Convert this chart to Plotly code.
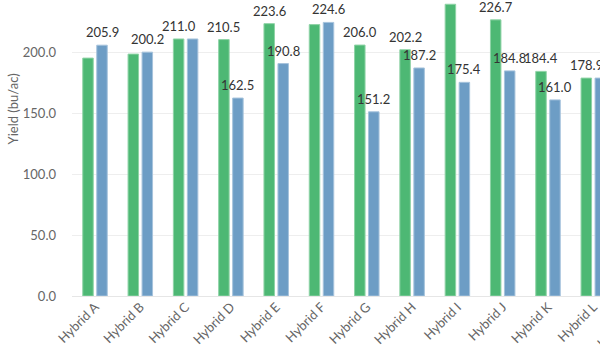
import plotly.graph_objects as go

# Hybrid yield trial: two series per hybrid
hybrids = ["Hybrid A", "Hybrid B", "Hybrid C", "Hybrid D", "Hybrid E", "Hybrid F",
           "Hybrid G", "Hybrid H", "Hybrid I", "Hybrid J", "Hybrid K", "Hybrid L"]
series_1 = [195.3, 198.6, 211.0, 210.5, 223.6, 222.8, 206.0, 202.2, 239.5, 226.7, 184.4, 178.9]
series_2 = [205.9, 200.2, 211.0, 162.5, 190.8, 224.6, 151.2, 187.2, 175.4, 184.8, 161.0, 178.9]

# which value labels are displayed (crowded ones are suppressed)
show_1 = [False, False, True, True, True, False, True, True, False, True, True, True]
show_2 = [True, True, False, True, True, True, True, True, True, True, True, False]

y_tick_vals = [0, 50, 100, 150, 200]
y_tick_text = ["0.0", "50.0", "100.0", "150.0", "200.0"]

GREEN = "#4db874"
BLUE = "#6d9dc5"
FONT = "Lato"
LABEL_SIZE = 13
TICK_SIZE = 13
BAR_OFFSET_PX = 7  # half the distance between the two bars of a group

fig = go.Figure()
fig.add_trace(go.Bar(
    x=hybrids, y=series_1, marker=dict(color=GREEN, line=dict(color="#8fd3a6", width=1)),
))
fig.add_trace(go.Bar(
    x=hybrids, y=series_2, marker=dict(color=BLUE, line=dict(color="#a6c3dc", width=1)),
))

# value labels placed just above each bar
annotations = []
for values, show, shift in ((series_1, show_1, -BAR_OFFSET_PX), (series_2, show_2, BAR_OFFSET_PX)):
    for name, v, s in zip(hybrids, values, show):
        if not s:
            continue
        annotations.append(dict(
            x=name, y=v, xref="x", yref="y", text=f"{v:.1f}", showarrow=False,
            xanchor="center", yanchor="bottom", xshift=shift, yshift=3,
            font=dict(family=FONT, size=LABEL_SIZE, color="#333333"),
        ))

annotations += [
    dict(text="Yield (bu/ac)", textangle=-90, xref="paper", yref="paper",
         x=-0.1127, y=0.632, xanchor="center", yanchor="middle", showarrow=False,
         font=dict(family=FONT, size=TICK_SIZE, color="#666666")),
    dict(text="Hybrid M", textangle=-45, xref="paper", yref="paper",
         x=1.034, y=-0.1, xanchor="center", yanchor="middle", showarrow=False,
         font=dict(family=FONT, size=TICK_SIZE, color="#666666")),
]

fig.update_layout(
    width=600, height=349,
    margin=dict(l=72, r=0, t=0, b=53),
    paper_bgcolor="white", plot_bgcolor="white",
    barmode="group", bargap=0.382, bargroupgap=0.25,
    showlegend=False,
    font=dict(family=FONT, size=TICK_SIZE, color="#666666"),
    xaxis=dict(
        range=[-0.508, 11.148], tickangle=-45, showgrid=False, automargin=False,
        showline=False, ticks="",
        tickfont=dict(family=FONT, size=TICK_SIZE, color="#666666"),
    ),
    yaxis=dict(
        range=[0, 243], tickvals=y_tick_vals, ticktext=y_tick_text, automargin=False,
        showgrid=True, gridcolor="#eeeeee", gridwidth=1,
        zeroline=True, zerolinecolor="#e6e6e6", zerolinewidth=1,
        showline=False, ticks="", ticklabelstandoff=15,
        tickfont=dict(family=FONT, size=TICK_SIZE, color="#666666"),
    ),
    annotations=annotations,
)

fig.write_html("out.html")
